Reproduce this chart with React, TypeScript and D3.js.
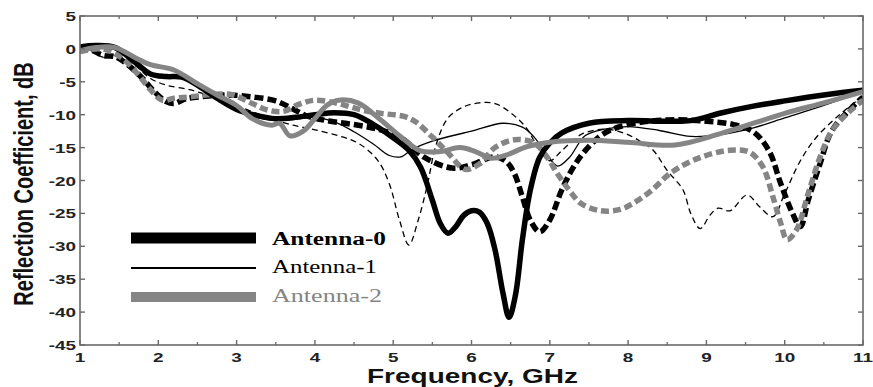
import React from "react";
import * as d3 from "d3";

// Reflection coefficient (dB) vs frequency (GHz), solid = simulated, dashed = measured
const ant0Sim: [number, number][] = [
  [1.0, 0.3], [1.2, 0.5], [1.45, 0.2], [1.7, -2], [1.9, -3.8], [2.1, -4.2], [2.3, -4.3],
  [2.5, -5.5], [2.75, -7.5], [3.0, -9.2], [3.25, -10.1], [3.5, -10.6], [3.75, -10.4],
  [4.0, -10.0], [4.25, -9.7], [4.5, -10.0], [4.75, -11.5], [5.0, -13.5], [5.2, -15.4],
  [5.35, -18], [5.5, -23], [5.6, -26.5], [5.7, -28], [5.8, -27], [5.9, -25.3], [6.0, -24.6],
  [6.1, -24.8], [6.2, -26.5], [6.3, -30.5], [6.4, -37], [6.48, -40.8], [6.56, -37.5],
  [6.65, -29], [6.75, -21.5], [6.87, -16.5], [7.0, -14.3], [7.15, -12.8], [7.5, -11.3],
  [8.0, -10.9], [8.5, -11.0], [8.8, -10.9], [9.2, -9.7], [9.6, -8.7], [10.0, -7.9],
  [10.5, -7.0], [11.0, -6.3],
];

const ant0Meas: [number, number][] = [
  [1.0, 0.3], [1.15, -0.2], [1.3, -1.0], [1.45, -1.2], [1.6, -2.3], [1.8, -4.5], [1.95, -6.5],
  [2.1, -8], [2.2, -8.3], [2.35, -7.6], [2.6, -7.2], [2.9, -7.0], [3.2, -7.3], [3.5, -7.9],
  [3.7, -9], [3.9, -10.2], [4.2, -11.0], [4.5, -11.5], [4.8, -12.2], [5.1, -13.5], [5.4, -16.5],
  [5.75, -18.1], [6.0, -17.6], [6.3, -16.4], [6.45, -17.2], [6.55, -19], [6.65, -22.5],
  [6.75, -26], [6.87, -27.8], [7.0, -26], [7.15, -21.5], [7.3, -18], [7.45, -15.5],
  [7.7, -12.8], [8.0, -11.5], [8.5, -10.8], [9.0, -11.0], [9.35, -11.5], [9.6, -12.6],
  [9.8, -15.5], [9.95, -20.5], [10.1, -25], [10.2, -27], [10.3, -23], [10.45, -17.5],
  [10.6, -12.5], [10.85, -9], [11.0, -7.3],
];

const ant1Sim: [number, number][] = [
  [1.0, 0.2], [1.2, 0.4], [1.45, 0.1], [1.7, -2], [1.9, -3.7], [2.1, -4.0], [2.3, -4.4],
  [2.5, -5.8], [2.75, -7.6], [3.0, -9.2], [3.25, -10.4], [3.5, -10.9], [3.75, -10.7],
  [4.0, -10.4], [4.25, -11.1], [4.5, -12.6], [4.75, -14.5], [4.95, -16.2], [5.1, -16.4],
  [5.25, -15.2], [5.5, -14.0], [6.0, -12.5], [6.4, -11.3], [6.65, -11.9], [6.8, -13.4],
  [6.95, -15.8], [7.1, -17.8], [7.25, -16.5], [7.45, -13.2], [7.7, -12.2], [8.0, -11.8],
  [8.4, -12.4], [8.8, -13.3], [9.2, -13.0], [9.6, -12.0], [10.0, -10.5], [10.5, -8.6],
  [11.0, -6.5],
];

const ant1Meas: [number, number][] = [
  [1.0, 0.2], [1.15, -0.3], [1.3, -1.3], [1.45, -1.0], [1.7, -2.5], [1.9, -4.5], [2.1, -5.5],
  [2.4, -6.2], [2.7, -7.3], [3.0, -8.6], [3.3, -10], [3.6, -11.2], [3.8, -11.8], [4.0, -12.3],
  [4.3, -13.2], [4.55, -14.3], [4.8, -16.9], [4.95, -20.5], [5.08, -26], [5.2, -29.8],
  [5.32, -26], [5.43, -21], [5.55, -14.5], [5.7, -10.5], [5.9, -8.8], [6.1, -8.2], [6.3, -8.3],
  [6.5, -9.7], [6.7, -12], [6.85, -15], [7.0, -17], [7.15, -15.5], [7.4, -13], [7.7, -12.2],
  [7.95, -12.8], [8.15, -14], [8.32, -15.4], [8.5, -18.5], [8.7, -21.4], [8.8, -25],
  [8.92, -27.3], [9.05, -25.2], [9.15, -24.2], [9.3, -24.6], [9.52, -22.2], [9.68, -24],
  [9.85, -25.5], [10.0, -22], [10.2, -17], [10.4, -13.5], [10.7, -10], [11.0, -7.2],
];

const ant2Sim: [number, number][] = [
  [1.0, -0.3], [1.2, 0.2], [1.45, 0.2], [1.7, -1.3], [1.9, -2.4], [2.2, -3.2], [2.5, -5.3],
  [2.75, -7.0], [3.0, -8.6], [3.2, -10.6], [3.45, -11.6], [3.55, -11.3], [3.68, -13.2],
  [3.85, -12.5], [4.0, -10.6], [4.15, -8.6], [4.3, -7.8], [4.55, -8.2], [4.8, -10.4],
  [5.1, -13.4], [5.35, -15.5], [5.6, -15.6], [5.85, -15.0], [6.05, -15.6], [6.25, -16.6],
  [6.45, -16.1], [6.7, -14.9], [7.0, -14.2], [7.5, -13.9], [8.0, -14.2], [8.6, -14.6],
  [9.2, -12.8], [10.0, -9.8], [10.5, -8.2], [11.0, -6.5],
];

const ant2Meas: [number, number][] = [
  [1.0, -0.4], [1.2, 0.0], [1.35, -0.2], [1.55, -1.5], [1.75, -4.0], [1.9, -6.2], [2.05, -7.8],
  [2.2, -7.5], [2.4, -7.3], [2.7, -6.9], [2.95, -7.0], [3.2, -8.3], [3.4, -9.3], [3.6, -9.5],
  [3.8, -8.4], [4.0, -7.8], [4.3, -8.3], [4.6, -9.3], [4.85, -9.8], [5.15, -10.3], [5.3, -11.2],
  [5.5, -13.4], [5.7, -15.8], [5.92, -18.3], [6.1, -17.5], [6.3, -15.0], [6.55, -13.8],
  [6.8, -14.3], [6.95, -16.2], [7.1, -19.0], [7.25, -21.5], [7.4, -23.5], [7.65, -24.6],
  [7.9, -24.4], [8.1, -23.2], [8.3, -21.5], [8.55, -18.8], [8.9, -16.6], [9.3, -15.4],
  [9.55, -15.7], [9.72, -17.9], [9.85, -22.5], [9.95, -26.5], [10.03, -29.0], [10.15, -27.5],
  [10.3, -22], [10.45, -16.5], [10.6, -12.5], [10.8, -9.8], [11.0, -7.8],
];

const xTicks = [1, 2, 3, 4, 5, 6, 7, 8, 9, 10, 11];
const xMinorTicks = [1.5, 2.5, 3.5, 4.5, 5.5, 6.5, 7.5, 8.5, 9.5, 10.5];
const yTicks = [5, 0, -5, -10, -15, -20, -25, -30, -35, -40, -45];
const legendNames = ["Antenna-0", "Antenna-1", "Antenna-2"];

const W = 873;
const H = 387;
const left = 80;
const right = 863;
const top = 16;
const bottom = 345;
const GRAY = "#858585";
const AXIS = "#6a6a6a";
const SX = 1.4; // horizontal text stretch

export default function App() {
  const x = d3.scaleLinear().domain([1, 11]).range([left, right]);
  const y = d3.scaleLinear().domain([-45, 5]).range([bottom, top]);
  const line = d3
    .line<[number, number]>()
    .x((d) => x(d[0]))
    .y((d) => y(d[1]))
    .curve(d3.curveCatmullRom.alpha(0.5));

  const series = [
    { data: ant1Meas, stroke: "#000", width: 1.3, dash: "6 4" },
    { data: ant1Sim, stroke: "#000", width: 1.3, dash: undefined },
    { data: ant0Meas, stroke: "#000", width: 5.5, dash: "9 4" },
    { data: ant2Meas, stroke: GRAY, width: 5.5, dash: "8 4" },
    { data: ant0Sim, stroke: "#000", width: 5.5, dash: undefined },
    { data: ant2Sim, stroke: GRAY, width: 5, dash: undefined },
  ];

  const legend = [
    { name: legendNames[0], stroke: "#000", width: 11, y: 238, ty: 245, weight: "bold", fill: "#000", len: 114 },
    { name: legendNames[1], stroke: "#000", width: 2.2, y: 268, ty: 273, weight: "normal", fill: "#000", len: 105 },
    { name: legendNames[2], stroke: GRAY, width: 10, y: 297, ty: 302, weight: "normal", fill: GRAY, len: 110 },
  ];

  return (
    <svg
      width={W}
      height={H}
      style={{ position: "absolute", left: 0, top: 0, background: "#fff" }}
    >
      <defs>
        <clipPath id="plot-area">
          <rect x={left} y={top} width={right - left} height={bottom - top} />
        </clipPath>
      </defs>
      <rect x={0} y={0} width={W} height={H} fill="#fff" />

      <g clipPath="url(#plot-area)">
        {series.map((s, i) => (
          <path
            key={i}
            d={line(s.data) || ""}
            fill="none"
            stroke={s.stroke}
            strokeWidth={s.width}
            strokeDasharray={s.dash}
            strokeLinejoin="round"
          />
        ))}
      </g>

      {/* frame */}
      <rect
        x={left}
        y={top}
        width={right - left}
        height={bottom - top}
        fill="none"
        stroke={AXIS}
        strokeWidth={1.6}
      />

      {/* x ticks, inward on bottom and top */}
      {xTicks.map((t) => (
        <g key={"xt" + t}>
          <line x1={x(t)} x2={x(t)} y1={bottom} y2={bottom - 5} stroke={AXIS} strokeWidth={1.4} />
          <line x1={x(t)} x2={x(t)} y1={top} y2={top + 5} stroke={AXIS} strokeWidth={1.4} />
          <text
            transform={`translate(${x(t)},362) scale(${SX},1)`}
            textAnchor="middle"
            fontFamily="'Liberation Sans', Arial, sans-serif"
            fontWeight="bold"
            fontSize={13.5}
            fill="#222"
          >
            {t}
          </text>
        </g>
      ))}
      {xMinorTicks.map((t) => (
        <g key={"xm" + t}>
          <line x1={x(t)} x2={x(t)} y1={bottom} y2={bottom - 3} stroke={AXIS} strokeWidth={1.3} />
          <line x1={x(t)} x2={x(t)} y1={top} y2={top + 3} stroke={AXIS} strokeWidth={1.3} />
        </g>
      ))}

      {/* y ticks, inward on left and right */}
      {yTicks.map((t) => (
        <g key={"yt" + t}>
          <line x1={left} x2={left + 5} y1={y(t)} y2={y(t)} stroke={AXIS} strokeWidth={1.4} />
          <line x1={right} x2={right - 5} y1={y(t)} y2={y(t)} stroke={AXIS} strokeWidth={1.4} />
          <text
            transform={`translate(76,${y(t) + 5}) scale(${SX},1)`}
            textAnchor="end"
            fontFamily="'Liberation Sans', Arial, sans-serif"
            fontWeight="bold"
            fontSize={13.5}
            fill="#222"
          >
            {t}
          </text>
        </g>
      ))}

      {/* axis titles */}
      <text
        transform={`translate(${(left + right) / 2 + 1},383) scale(${SX},1)`}
        textAnchor="middle"
        fontFamily="'Liberation Sans', Arial, sans-serif"
        fontWeight="bold"
        fontSize={20}
        fill="#111"
      >
        Frequency, GHz
      </text>
      <text
        transform={`translate(33,184) scale(${SX},1) rotate(-90)`}
        textAnchor="middle"
        fontFamily="'Liberation Sans', Arial, sans-serif"
        fontWeight="bold"
        fontSize={20}
        fill="#111"
      >
        Reflection Coefficient, dB
      </text>

      {/* legend */}
      {legend.map((l) => (
        <g key={l.name}>
          <line x1={131} x2={256} y1={l.y} y2={l.y} stroke={l.stroke} strokeWidth={l.width} />
          <text
            x={272}
            y={l.ty}
            textLength={l.len}
            lengthAdjust="spacingAndGlyphs"
            fontFamily="'Liberation Serif', 'Times New Roman', serif"
            fontWeight={l.weight}
            fontSize={18}
            fill={l.fill}
          >
            {l.name}
          </text>
        </g>
      ))}
    </svg>
  );
}
